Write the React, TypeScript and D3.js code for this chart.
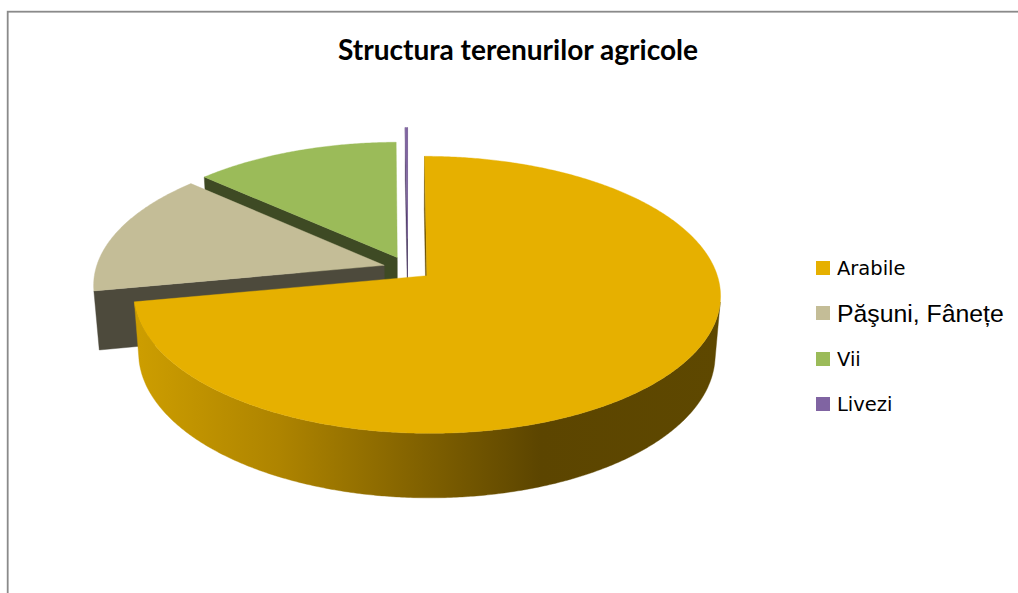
import React from 'react';
import * as d3 from 'd3';

const categories = ['Arabile', 'Păşuni, Fânețe', 'Vii', 'Livezi'];
const values = [72.0, 14.7, 13.15, 0.15];
const topColors = ['#E6B000', '#C4BD97', '#9BBB59', '#8064A2'];
const sideColors = ['url(#arabileSide)', '#4D4A3C', '#3E4A24', '#4B3B63'];
const explodeBy = [0.085, 0.085, 0.09, 0.23];

const W = 1018;
const H = 593;

// 3D view of the pie (radius = 1 unit)
const cx = 407.8;
const cy = 268.4;
const tilt = (28 * Math.PI) / 180;
const dist = 6.45;
const focalX = 1860;
const focalY = 1839;
const thick = 0.235;

type P3 = [number, number, number];
type P2 = [number, number];

const camera: P3 = [0, dist * Math.sin(tilt), dist * Math.cos(tilt)];

function project([x, y, z]: P3): P2 {
  const depth = dist - (y * Math.sin(tilt) + z * Math.cos(tilt));
  return [cx + (focalX * x) / depth, cy + (focalY * (z * Math.sin(tilt) - y * Math.cos(tilt))) / depth];
}

function facing(p: P3, n: P3) {
  return (camera[0] - p[0]) * n[0] + (camera[1] - p[1]) * n[1] + (camera[2] - p[2]) * n[2] > 0;
}

const line = d3.line<P2>();
const toPath = (pts: P3[]) => line(pts.map(project)) + 'Z';

function arcPoints(ox: number, oz: number, a0: number, a1: number, y: number): P3[] {
  const n = Math.max(2, Math.ceil(Math.abs(a1 - a0) / (Math.PI / 360)) + 1);
  return d3.range(n).map(k => {
    const a = a0 + ((a1 - a0) * k) / (n - 1);
    return [ox + Math.sin(a), y, oz - Math.cos(a)] as P3;
  });
}

interface Face { key: string; d: string; fill: string }

function buildFaces(): Face[] {
  const arcs = d3.pie<number>().sort(null).value(d => d)(values);
  const order = arcs
    .map((a, i) => ({ a, i, mid: (a.startAngle + a.endAngle) / 2 }))
    .sort((p, q) => -Math.cos(p.mid) - -Math.cos(q.mid));

  const faces: Face[] = [];
  order.forEach(({ a, i, mid }) => {
    const ox = explodeBy[i] * Math.sin(mid);
    const oz = -explodeBy[i] * Math.cos(mid);
    const s = a.startAngle;
    const e = a.endAngle;
    const apexTop: P3 = [ox, 0, oz];
    const apexBot: P3 = [ox, -thick, oz];
    const outer = (t: number, y: number): P3 => [ox + Math.sin(t), y, oz - Math.cos(t)];
    const flatSide = i === 0 ? '#6A5000' : sideColors[i];

    // radial faces
    const nStart: P3 = [-Math.cos(s), 0, -Math.sin(s)];
    if (facing(apexTop, nStart)) {
      faces.push({ key: `s${i}`, fill: flatSide, d: toPath([apexTop, outer(s, 0), outer(s, -thick), apexBot]) });
    }
    const nEnd: P3 = [Math.cos(e), 0, Math.sin(e)];
    if (facing(apexTop, nEnd)) {
      faces.push({ key: `e${i}`, fill: flatSide, d: toPath([apexTop, outer(e, 0), outer(e, -thick), apexBot]) });
    }

    // curved outer side, only the parts turned to the viewer
    const samples = arcPoints(ox, oz, s, e, -thick / 2);
    const n = samples.length;
    let run: number[] = [];
    const flush = () => {
      if (run.length > 1) {
        const angs = run.map(k => s + ((e - s) * k) / (n - 1));
        const top = angs.map(t => outer(t, 0));
        const bot = angs.map(t => outer(t, -thick)).reverse();
        faces.push({ key: `c${i}-${run[0]}`, fill: sideColors[i], d: toPath([...top, ...bot]) });
      }
      run = [];
    };
    samples.forEach((p, k) => {
      const t = s + ((e - s) * k) / (n - 1);
      if (facing(p, [Math.sin(t), 0, -Math.cos(t)])) run.push(k);
      else flush();
    });
    flush();

    // top face
    faces.push({ key: `t${i}`, fill: topColors[i], d: toPath([apexTop, ...arcPoints(ox, oz, s, e, 0)]) });
  });
  return faces;
}

const legendY = [268, 313, 359, 404];
const legendFonts = [
  { family: 'DejaVu Sans', size: 19.5 },
  { family: 'Liberation Sans, Arial, sans-serif', size: 24.8 },
  { family: 'DejaVu Sans', size: 19.5 },
  { family: 'DejaVu Sans', size: 19.5 },
];

export default function App() {
  const faces = buildFaces();
  return (
    <svg width={W} height={H} style={{ position: 'absolute', left: 0, top: 0, background: '#fff' }}>
      <defs>
        <linearGradient id="arabileSide" gradientUnits="userSpaceOnUse" x1={140} y1={0} x2={720} y2={0}>
          <stop offset="0" stopColor="#CC9D00" />
          <stop offset="0.24" stopColor="#AE8400" />
          <stop offset="0.5" stopColor="#7E5F00" />
          <stop offset="0.69" stopColor="#5C4500" />
          <stop offset="1" stopColor="#5E4800" />
        </linearGradient>
      </defs>
      <rect x={7.7} y={11.7} width={1100} height={700} fill="none" stroke="#8A8A8A" strokeWidth={1.8} />
      <text x={518} y={60} textAnchor="middle" fontFamily="Lato, 'Open Sans', sans-serif" fontWeight="bold"
        fontSize={29} textLength={360} lengthAdjust="spacingAndGlyphs" fill="#000">
        Structura terenurilor agricole
      </text>
      <g>
        {faces.map(f => (
          <path key={f.key} d={f.d} fill={f.fill} stroke={f.fill} strokeWidth={0.4} strokeLinejoin="round" />
        ))}
      </g>
      <g>
        {categories.map((c, i) => (
          <g key={c}>
            <rect x={816} y={legendY[i] - 7} width={14} height={14} fill={topColors[i]} />
            <text x={837} y={legendY[i]} dy="0.36em" fontFamily={legendFonts[i].family}
              fontSize={legendFonts[i].size} fill="#000">{c}</text>
          </g>
        ))}
      </g>
    </svg>
  );
}
